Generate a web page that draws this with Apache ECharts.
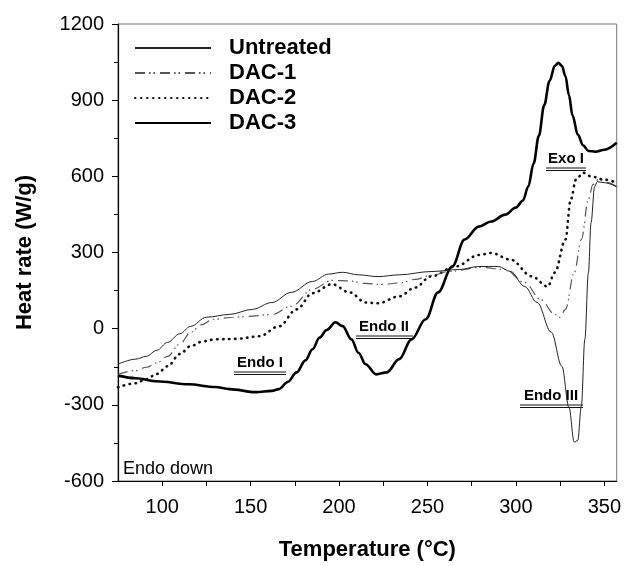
<!DOCTYPE html>
<html>
<head>
<meta charset="utf-8">
<script src="https://cdn.jsdelivr.net/npm/echarts@6/dist/echarts.min.js"></script>
<style>html,body{margin:0;padding:0;background:#fff}#c{width:624px;height:566px}</style>
</head>
<body>
<div id="c"></div>
<script>
// ---- data (temperature °C, heat rate W/g) ----
var seriesNames = ['Untreated', 'DAC-1', 'DAC-2', 'DAC-3'];
var untreated = [[75,-140],[85,-120],[91,-109],[97,-85],[103,-54],[110,-20],[116,9],[125,45],[138,56],[151,76],[162,103],[173,143],[185,186],[194,215],[202,222],[211,212],[222,205],[234,212],[252,225],[268,233],[279,245],[290,245],[297,225],[305,166],[312,103],[320,-14],[326,-148],[330,-310],[333,-447],[335,-440],[337,-305],[339,-42],[341,221],[342.5,418],[344.5,559],[346,579],[350,575],[357,559]];
var dac1 = [[75,-180],[85,-165],[91,-152],[97,-135],[103,-109],[110,-60],[116,-15],[122,15],[129,37],[140,45],[148,48],[162,56],[173,88],[185,155],[196,190],[206,188],[215,178],[224,174],[234,180],[243,194],[252,210],[262,225],[280,241],[294,233],[305,182],[314,115],[322,56],[325,45],[328,76],[333,221],[337,351],[341,508],[343.5,567],[346.5,587],[352,575],[357,559]];
var dac2 = [[75,-231],[85,-215],[91,-199],[97,-178],[103,-148],[110,-100],[116,-69],[123,-50],[130,-42],[142,-40],[155,-30],[166,9],[176,76],[185,140],[196,175],[206,143],[215,103],[222,100],[234,127],[243,162],[252,206],[266,245],[279,290],[286,298],[297,272],[309,206],[318,166],[322,221],[328,351],[331,508],[334,587],[338,614],[342.5,600],[350,587],[357,575]];
var dac3 = [[75,-185],[85,-195],[97,-207],[115,-219],[130,-230],[138,-238],[153,-250],[162,-245],[166,-238],[171,-210],[176,-172],[181,-125],[185,-81],[189,-35],[193,-5],[198,25],[202,10],[207,-42],[211,-95],[215,-140],[221,-180],[227,-172],[234,-120],[241,-42],[249,37],[256,143],[264,245],[271,351],[279,402],[286,422],[294,449],[300,477],[304,505],[307,560],[310,650],[313,760],[316,880],[319,975],[322,1035],[324,1047],[326,1035],[328,995],[330,920],[332,840],[335,765],[338,722],[341,700],[345,697],[350,705],[357,732]];
var xTickLabels = [100, 150, 200, 250, 300, 350];
var yTickLabels = [-600, -300, 0, 300, 600, 900, 1200];
var annotations = ['Endo I', 'Endo II', 'Endo III', 'Exo I', 'Endo down'];

var chart = echarts.init(document.getElementById('c'), null, {renderer: 'canvas'});
var FONT = 'Liberation Sans, Arial, sans-serif';

function ul(x1, x2, y) {
  return [
    {type: 'line', shape: {x1: x1, y1: y, x2: x2, y2: y}, style: {stroke: '#111', lineWidth: 1}},
    {type: 'line', shape: {x1: x1, y1: y + 2.5, x2: x2, y2: y + 2.5}, style: {stroke: '#111', lineWidth: 1}}
  ];
}
function txt(text, x, y) {
  return {type: 'text', x: x, y: y, style: {text: text, fill: '#000', font: 'bold 15px ' + FONT, textAlign: 'center', textVerticalAlign: 'middle'}};
}

var graphics = [];
graphics.push(txt(annotations[0], 260, 363));
graphics = graphics.concat(ul(234, 286, 372));
graphics.push(txt(annotations[1], 384, 327));
graphics = graphics.concat(ul(356, 413, 336));
graphics.push(txt(annotations[2], 551, 396));
graphics = graphics.concat(ul(520, 583, 405));
graphics.push(txt(annotations[3], 566, 159));
graphics = graphics.concat(ul(546, 586, 168));
graphics.push({type: 'text', x: 123, y: 469, style: {text: annotations[4], fill: '#000', font: '18px ' + FONT, textAlign: 'left', textVerticalAlign: 'middle'}});

var styles = [
  {color: '#222', width: 1, type: 'solid'},
  {color: '#555', width: 1.2, type: [10, 4, 1.5, 3, 1.5, 5]},
  {color: '#111', width: 2.6, type: [0.5, 5.5], cap: 'round'},
  {color: '#000', width: 2.6, type: 'solid'}
];
var datas = [untreated, dac1, dac2, dac3];
var series = seriesNames.map(function (n, i) {
  return {
    name: n, type: 'line', data: datas[i], symbol: 'none', showSymbol: false,
    smooth: 0.35, smoothMonotone: 'x',
    lineStyle: styles[i], itemStyle: {color: styles[i].color},
    z: 10 - i
  };
});

chart.setOption({
  animation: false,
  backgroundColor: '#fff',
  grid: {left: 118, top: 24, width: 500, height: 458, show: true, borderColor: '#777', borderWidth: 1, containLabel: false},
  legend: {
    orient: 'vertical', left: 134, top: 37, padding: 0, itemWidth: 76, itemHeight: 14, itemGap: 3,
    data: seriesNames,
    itemStyle: {opacity: 0},
    textStyle: {fontFamily: FONT, fontWeight: 'bold', fontSize: 22, color: '#000', padding: [0, 0, 0, 13]}
  },
  xAxis: {
    type: 'value', min: 75, max: 357, interval: 25,
    name: 'Temperature (°C)', nameLocation: 'middle', nameGap: 58,
    nameTextStyle: {fontFamily: FONT, fontWeight: 'bold', fontSize: 22, color: '#000'},
    axisLine: {show: true, onZero: false, lineStyle: {color: '#000', width: 1.2}},
    axisTick: {show: true, length: 5, lineStyle: {color: '#000'}},
    splitLine: {show: false},
    axisLabel: {
      margin: 16, fontFamily: FONT, fontSize: 20, color: '#000', showMinLabel: false, showMaxLabel: false,
      formatter: function (v) { return xTickLabels.indexOf(v) >= 0 ? String(v) : ''; }
    }
  },
  yAxis: {
    type: 'value', min: -600, max: 1200, interval: 300,
    name: 'Heat rate (W/g)', nameLocation: 'middle', nameGap: 82, nameRotate: 90,
    nameTextStyle: {fontFamily: FONT, fontWeight: 'bold', fontSize: 22, color: '#000'},
    axisLine: {show: true, onZero: false, lineStyle: {color: '#000', width: 1.2}},
    axisTick: {show: true, length: 6, lineStyle: {color: '#000'}},
    minorTick: {show: true, splitNumber: 2, length: 4, lineStyle: {color: '#000'}},
    splitLine: {show: false},
    axisLabel: {
      margin: 14, fontFamily: FONT, fontSize: 20, color: '#000',
      formatter: function (v) { return yTickLabels.indexOf(v) >= 0 ? String(v) : ''; }
    }
  },
  series: series,
  graphic: graphics
});
</script>
</body>
</html>
